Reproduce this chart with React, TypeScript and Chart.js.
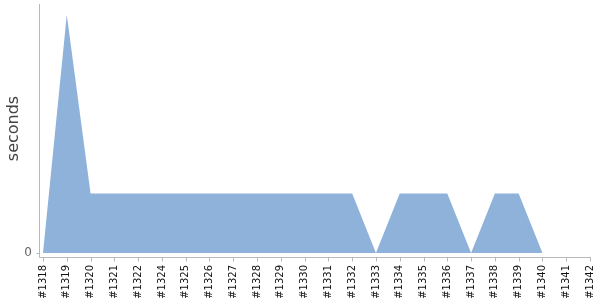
import React, { useEffect, useRef } from "react";
import { Chart, registerables } from "chart.js";

Chart.register(...registerables);

const builds = ["#1318", "#1319", "#1320", "#1321", "#1322", "#1324", "#1325", "#1326", "#1327", "#1328", "#1329", "#1330", "#1331", "#1332", "#1333", "#1334", "#1335", "#1336", "#1337", "#1338", "#1339", "#1340", "#1341", "#1342"];
const seconds: (number | null)[] = [0, 4, 1, 1, 1, 1, 1, 1, 1, 1, 1, 1, 1, 1, 0, 1, 1, 1, 0, 1, 1, 0, null, null];
const yTicks = [0];

const axisLines = {
  id: "axisLines",
  afterDraw(chart: any) {
    const { ctx, chartArea } = chart;
    const xs = chart.scales.x;
    const ys = chart.scales.y;
    const axisY = chartArea.bottom + 4.5;
    const axisX = chartArea.left - 3.5;
    ctx.save();
    ctx.strokeStyle = "#b8b8b8";
    ctx.lineWidth = 1;
    ctx.beginPath();
    ctx.moveTo(axisX, chartArea.top);
    ctx.lineTo(axisX, axisY);
    ctx.lineTo(chartArea.right + 1, axisY);
    for (let i = 0; i < builds.length; i++) {
      const px = Math.round(xs.getPixelForValue(i)) + 0.5;
      ctx.moveTo(px, axisY);
      ctx.lineTo(px, axisY + 4);
    }
    for (const v of yTicks) {
      const py = Math.round(ys.getPixelForValue(v)) + 0.5;
      ctx.moveTo(axisX - 3, py);
      ctx.lineTo(axisX, py);
    }
    ctx.stroke();
    ctx.restore();
  },
};

export default function App() {
  const ref = useRef<HTMLCanvasElement>(null);
  useEffect(() => {
    document.body.style.margin = "0";
    const chart = new Chart(ref.current!, {
      type: "line",
      data: {
        labels: builds,
        datasets: [
          {
            data: seconds,
            fill: "origin",
            backgroundColor: "rgb(143,178,219)",
            borderWidth: 0,
            borderColor: "rgb(143,178,219)",
            pointRadius: 0,
            tension: 0,
          },
        ],
      },
      plugins: [axisLines],
      options: {
        responsive: false,
        animation: false,
        plugins: { legend: { display: false }, tooltip: { enabled: false } },
        layout: { padding: { top: 4, right: 10, left: 0, bottom: 0 } },
        scales: {
          x: {
            offset: false,
            afterFit: (axis: any) => {
              axis.height = 47;
              axis.paddingLeft = 0;
              axis.paddingRight = 0;
            },
            grid: { display: false, drawTicks: false },
            border: { display: false },
            ticks: {
              autoSkip: false,
              minRotation: 90,
              maxRotation: 90,
              color: "#111",
              font: { family: "DejaVu Sans", size: 10 },
              padding: 12,
            },
          },
          y: {
            min: 0,
            max: 4.18,
            afterBuildTicks: (axis: any) => {
              axis.ticks = yTicks.map((v) => ({ value: v }));
            },
            afterFit: (axis: any) => {
              axis.width = 43;
              axis.paddingTop = 0;
              axis.paddingBottom = 0;
            },
            grid: { display: false, drawTicks: false },
            border: { display: false },
            ticks: { color: "#666", font: { family: "DejaVu Sans", size: 12 }, padding: 11 },
            title: {
              display: true,
              text: "seconds",
              color: "#444",
              font: { family: "DejaVu Sans", size: 16 },
              padding: { top: 4, bottom: 0 },
            },
          },
        },
      },
    });
    return () => chart.destroy();
  }, []);
  return <canvas ref={ref} width={600} height={300} />;
}
